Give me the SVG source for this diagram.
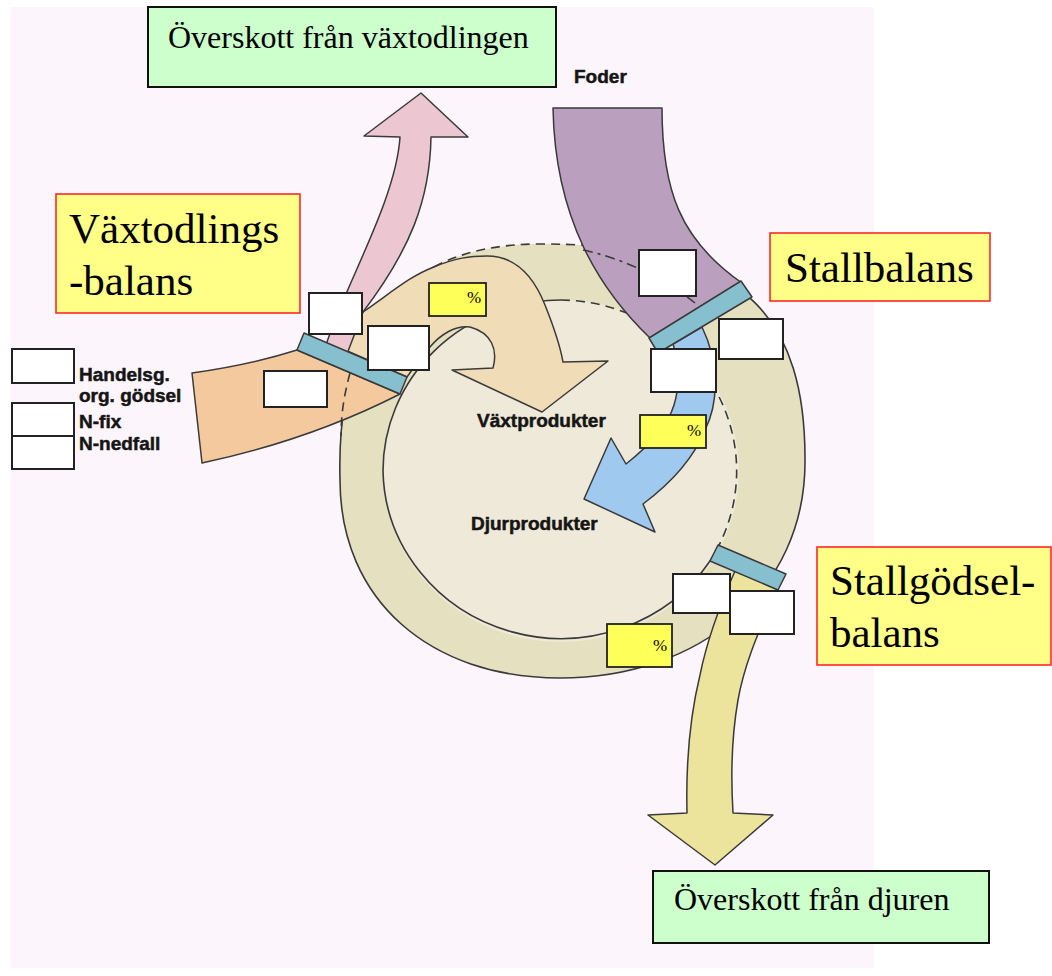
<svg xmlns="http://www.w3.org/2000/svg" width="1052" height="976" viewBox="0 0 1052 976">
<style>
.ol{stroke:#3a3a3a;stroke-width:1.5;stroke-linejoin:round}
.dash{fill:none;stroke:#3a3a3a;stroke-width:1.6;stroke-dasharray:9 6}
.dd{fill:none;stroke:#3a3a3a;stroke-width:1.6;stroke-dasharray:10 5 3 5}
.solid{fill:none;stroke:#3a3a3a;stroke-width:1.6}
.bar{fill:#86c0cf;stroke:#3a3a3a;stroke-width:1.5;stroke-linejoin:round}
.wb{fill:#fff;stroke:#222;stroke-width:2}
.pb{fill:#ffff5a;stroke:#222;stroke-width:1.8}
.lb{fill:#ffff88;stroke:#ff2a2a;stroke-width:1.6}
.gb{fill:#ccffcc;stroke:#111;stroke-width:2}
.serif{font-family:"Liberation Serif","Times New Roman",serif;fill:#000}
.sans{font-family:"Liberation Sans",Arial,sans-serif;font-weight:bold;fill:#151515;stroke:#151515;stroke-width:0.5;font-size:19px}
.pct{font-family:"Liberation Serif","Times New Roman",serif;font-size:17px;fill:#000}
</style>
<rect x="0" y="0" width="1052" height="976" fill="#ffffff"/>
<rect x="10" y="7" width="864" height="961" fill="#fdf5fc"/>

<g id="cycle">
  <path d="M 340,480 C 337.2,375 367.7,301.4 434.3,266.6 C 462.8,251.7 498,244 540,244 C 559,244 576.9,244.6 593.8,245.7 C 742,256.3 806,316.2 805,462 C 805,590 700,678 560,678 C 430,678 340,600 340,480 Z" fill="#e5e0c0"/>
  <path class="solid" d="M 434.3,266.6 C 367.7,301.4 337.2,375 340,480 C 340,600 430,678 560,678 C 700,678 805,590 805,462 C 806,316.2 742,256.3 593.8,245.7"/>
  <path class="dash" d="M 434.3,266.6 C 462.8,251.7 498,244 540,244 C 559,244 576.9,244.6 593.8,245.7"/>
  <ellipse cx="561" cy="471" rx="178" ry="171" fill="#eee9d8"/>
  <path class="solid" d="M 710,561 A 178,171 0 0 1 383,471 A 178,171 0 0 1 561,300"/>
  <path class="dash" d="M 561,300 A 178,171 0 0 1 710,561"/>
</g>

<g id="connectors">
  <path id="flow-vaxtprodukter" class="ol" fill="#f0ddb7" d="M 345,350 L 363,312 C 392,292 410,276 434,267 C 455,258 470,256 487,256 C 515,256 533,275 545,305 C 553,325 560,345 563,362 L 608,361 L 542,412 L 452,370 L 493,368 C 498,350 492,333 470,327 C 455,325 440,335 430,347 C 420,358 412,370 407,377 Z"/>
  <path id="flow-overskott-vaxt" class="ol" fill="#ecc6d0" d="M 326,345 C 345,285 396,200 400,137 L 364,136 L 421,93 L 468,137 L 431,137 C 430,200 410,250 363,312 L 347,354 Z"/>
  <path id="flow-in" class="ol" fill="#f3c99d" d="M 192,373 Q 250,365 297,350 L 400,394 Q 310,440 202,463 Z"/>
  <path class="dash" d="M 350,373 C 344,395 341,415 341,436"/>
  <path id="flow-foder" class="ol" fill="#baa0be" d="M 553,108 L 662,108 C 662,190 680,240 742,283 L 650,338 C 600,290 555,220 553,108 Z"/>
  <path class="dd" d="M 583,250 C 620,258 660,275 695,303"/>
  <path id="flow-overskott-djur" class="ol" fill="#ece49d" d="M 735,571 L 777,589 C 762,625 745,660 738,700 C 731,740 731,780 733,813 L 773,815 L 715,865 L 648,815 L 687,813 C 686,770 689,720 700,675 C 707,640 720,605 735,571 Z"/>
  <path id="flow-djurprodukter" class="ol" fill="#9fc9ef" d="M 673,344 L 702,327 C 718,360 720,400 705,430 C 695,455 675,480 643,504 L 655,532 L 584,499 L 611,438 L 626,464 C 650,445 668,425 674,405 C 680,385 680,365 673,344 Z"/>
  <polygon id="bar-vaxt" class="bar" points="304,333 407,377 400,394 297,350"/>
  <polygon id="bar-stall" class="bar" points="649,338 741,281 752,297 658,353"/>
  <polygon id="bar-godsel" class="bar" points="718,545 786,574 778,590 710,561"/>
</g>

<g id="title-vaxt"><rect class="gb" x="148" y="7" width="408" height="80"/><text class="serif" x="168" y="48" font-size="32">Överskott från växtodlingen</text></g>
<g id="title-djur"><rect class="gb" x="653" y="871" width="336" height="72"/><text class="serif" x="674" y="910" font-size="32">Överskott från djuren</text></g>
<g id="label-vaxtbalans"><rect class="lb" x="56" y="194" width="244" height="119"/><text class="serif" x="69" y="243" font-size="43">Växtodlings</text><text class="serif" x="69" y="295" font-size="43">-balans</text></g>
<g id="label-stallbalans"><rect class="lb" x="770" y="233" width="220" height="68"/><text class="serif" x="785" y="282" font-size="43">Stallbalans</text></g>
<g id="label-godselbalans"><rect class="lb" x="817" y="547" width="234" height="118"/><text class="serif" x="830" y="595" font-size="43">Stallgödsel-</text><text class="serif" x="830" y="647" font-size="43">balans</text></g>

<g id="text-foder"><text class="sans" x="574" y="83">Foder</text></g>
<g id="text-vaxtprodukter"><text class="sans" x="477" y="427" font-size="20">Växtprodukter</text></g>
<g id="text-djurprodukter"><text class="sans" x="471" y="530" font-size="20">Djurprodukter</text></g>

<g id="inputs">
  <rect class="wb" x="12" y="349" width="62" height="34"/>
  <rect class="wb" x="12" y="403" width="62" height="33"/>
  <rect class="wb" x="12" y="436" width="62" height="33"/>
  <text class="sans" x="79" y="381">Handelsg.</text>
  <text class="sans" x="79" y="402">org. gödsel</text>
  <text class="sans" x="79" y="428">N-fix</text>
  <text class="sans" x="79" y="450">N-nedfall</text>
</g>

<g id="box-a"><rect class="wb" x="309" y="293" width="53" height="41"/></g>
<g id="box-b"><rect class="wb" x="368" y="326" width="61" height="44"/></g>
<g id="box-c"><rect class="wb" x="264" y="371" width="63" height="36"/></g>
<g id="box-d"><rect class="wb" x="639" y="250" width="57" height="46"/></g>
<g id="box-e"><rect class="wb" x="719" y="319" width="64" height="40"/></g>
<g id="box-f"><rect class="wb" x="651" y="349" width="65" height="43"/></g>
<g id="box-g"><rect class="wb" x="673" y="574" width="57" height="39"/></g>
<g id="box-h"><rect class="wb" x="730" y="591" width="64" height="43"/></g>

<g id="pct-1"><rect class="pb" x="429" y="283" width="57" height="33"/><text class="pct" x="467" y="303">%</text></g>
<g id="pct-2"><rect class="pb" x="640" y="415" width="66" height="33"/><text class="pct" x="687" y="436">%</text></g>
<g id="pct-3"><rect class="pb" x="607" y="624" width="65" height="43"/><text class="pct" x="653" y="651">%</text></g>
</svg>
